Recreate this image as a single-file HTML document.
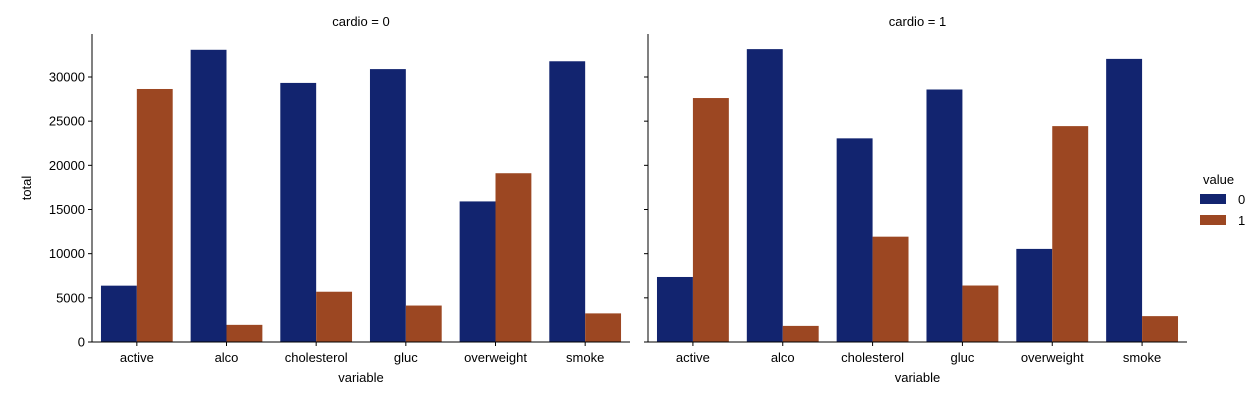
<!DOCTYPE html>
<html><head><meta charset="utf-8"><style>
body{margin:0;background:#fff;}
svg text{font-family:"Liberation Sans","DejaVu Sans",sans-serif;font-size:13px;fill:#000;}
</style></head><body>
<svg id="chart" width="1258" height="400" xmlns="http://www.w3.org/2000/svg"></svg>
<script>
const categories=["active","alco","cholesterol","gluc","overweight","smoke"];
const panelTitles=["cardio = 0","cardio = 1"];
const c0v0=[6378,33080,29330,30894,15915,31781];
const c0v1=[28643,1941,5691,4127,19106,3240];
const c1v0=[7361,33156,23055,28585,10539,32050];
const c1v1=[27618,1823,11924,6394,24440,2929];
const yTicks=[0,5000,10000,15000,20000,25000,30000];
const legendLabels=["0","1"];
const colors=["#12246f","#9c4722"];
const svg=document.getElementById('chart');
const NS="http://www.w3.org/2000/svg";
function mk(t,a,p){const e=document.createElementNS(NS,t);for(const k in a)e.setAttribute(k,a[k]);(p||svg).appendChild(e);return e;}
const y0=342,yTop=34;
function yS(v){return y0-v*265/30000;}
const panels=[{x0:92,x1:630,d:[c0v0,c0v1]},{x0:648,x1:1187,d:[c1v0,c1v1]}];
panels.forEach((p,pi)=>{
  const g=mk('g',{});
  
  
  const step=(p.x1-p.x0)/categories.length;
  const bw=step*0.4;
  function xC(i){return p.x0+step*(i+0.5);}
  p.d.forEach((series,si)=>{
    series.forEach((v,i)=>{
      const r=mk('rect',{x:xC(i)-bw+si*bw,y:yS(v),width:bw,height:y0-yS(v),fill:colors[si]},g);
      
      
    });
  });
  mk('line',{x1:p.x0,y1:yTop,x2:p.x0,y2:y0,stroke:'#000','stroke-width':1},g);
  mk('line',{x1:p.x0,y1:y0,x2:p.x1,y2:y0,stroke:'#000','stroke-width':1},g);
  yTicks.forEach(t=>{
    mk('line',{x1:p.x0-4,y1:yS(t),x2:p.x0,y2:yS(t),stroke:'#000'},g);
    if(pi===0){const tx=mk('text',{x:p.x0-7,y:yS(t)+4.5,'text-anchor':'end'},g);tx.textContent=t;
      }
  });
  categories.forEach((c,i)=>{
    mk('line',{x1:xC(i),y1:y0,x2:xC(i),y2:y0+4,stroke:'#000'},g);
    const tx=mk('text',{x:xC(i),y:y0+20,'text-anchor':'middle'},g);tx.textContent=c;
    
  });
  const xt=mk('text',{x:(p.x0+p.x1)/2,y:382,'text-anchor':'middle'},g);xt.textContent='variable';
  
  const tt=mk('text',{x:(p.x0+p.x1)/2,y:26,'text-anchor':'middle'},g);tt.textContent=panelTitles[pi];
  
});
const yt=mk('text',{x:31,y:188,'text-anchor':'middle',transform:'rotate(-90 31 188)'});yt.textContent='total';

const lg=mk('g',{});

const lt=mk('text',{x:1203,y:184},lg);lt.textContent='value';
legendLabels.forEach((l,i)=>{
  const r=mk('rect',{x:1200,y:194+i*21,width:26,height:10,fill:colors[i]},lg);
  
  const t=mk('text',{x:1238,y:204+i*21},lg);t.textContent=l;
  
});
</script>
</body></html>
